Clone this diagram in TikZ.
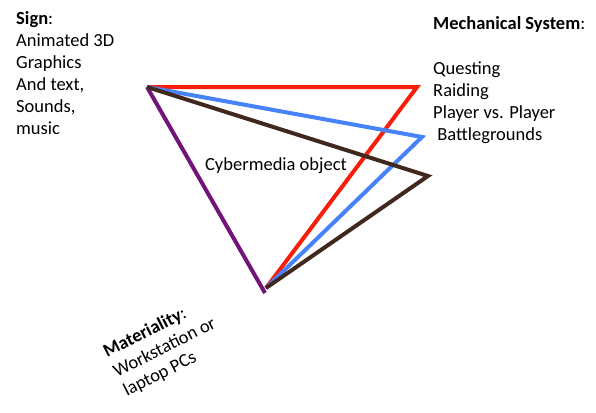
\documentclass[tikz,border=0pt]{standalone}
\usepackage{fontspec}
\setmainfont{Carlito}
\definecolor{lred}{RGB}{250,30,10}
\definecolor{lblue}{RGB}{70,130,250}
\definecolor{lbrown}{RGB}{65,40,30}
\definecolor{lpurple}{RGB}{115,20,120}
\begin{document}
\begin{tikzpicture}[x=1pt, y=-1pt,
    edge/.style={line width=4pt, line join=miter},
    label/.style={align=left, font=\fontsize{18.5}{22}\selectfont, inner sep=0pt},
    tilted/.style={label, anchor=base west, rotate=27}
  ]
  \useasboundingbox (0,0) rectangle (596,412);
  % corners of the triangle
  \coordinate (sign) at (147,87);
  \coordinate (mred) at (417,87);
  \coordinate (mblue) at (422,137);
  \coordinate (mbrown) at (428,176);
  \coordinate (mat) at (266,288);
  \coordinate (matp) at (265,293);

  % edges
  \draw[edge, lpurple] (sign) -- (matp);
  \draw[edge, lred] (sign) -- (mred) -- (mat);
  \draw[edge, lblue] (sign) -- (mblue) -- (mat);
  \draw[edge, lbrown] (sign) -- (mbrown) -- (mat);

  % labels
  \node[label, anchor=north west] (signtxt) at (16,11)
    {\textbf{Sign}:\\Animated 3D\\Graphics\\And text,\\Sounds,\\music};
  \node[label, anchor=north west] (mechtxt) at (433,16) {\textbf{Mechanical System}:};
  \node[label, anchor=north west] (mechlist) at (433,62)
    {Questing\\Raiding\\Player vs. Player\\\ Battlegrounds};
  \node[label] (cyber) at (276,166) {Cybermedia object};
  \node[tilted] (mat1) at (107,358) {\textbf{Materiality}:};
  \node[tilted] (mat2) at (117,378) {Workstation or};
  \node[tilted] (mat3) at (127,397) {laptop PCs};
\end{tikzpicture}
\end{document}
